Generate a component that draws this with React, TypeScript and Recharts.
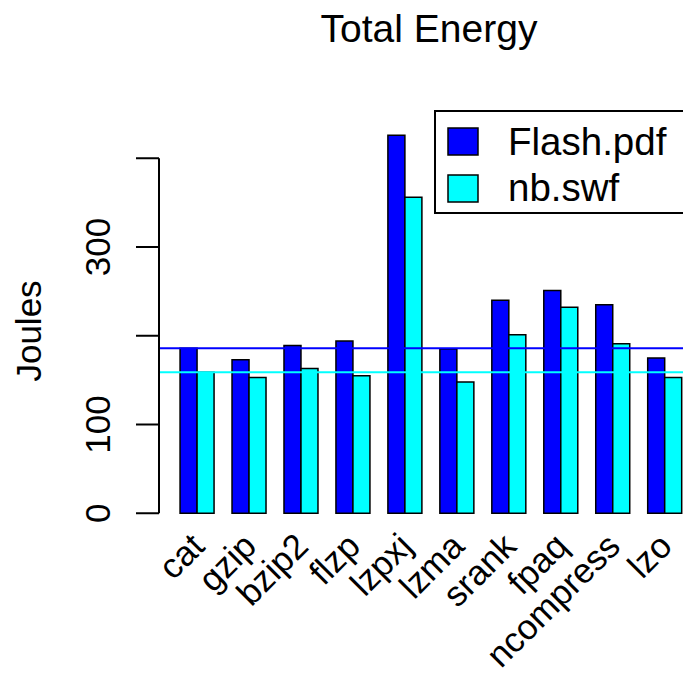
import React from 'react';
import { BarChart, Bar, XAxis, YAxis, ReferenceLine, Legend } from 'recharts';

// Compressors measured
const categories = ['cat', 'gzip', 'bzip2', 'flzp', 'lzpxj', 'lzma', 'srank', 'fpaq', 'ncompress', 'lzo'];
// Total energy (Joules) per workload
const flashPdf = [186, 173, 189, 194, 426, 185, 240, 251, 235, 175];
const nbSwf = [159, 153, 163, 155, 356, 148, 201, 232, 191, 153];
// Y axis ticks and which of them carry a label
const yTicks = [0, 100, 200, 300, 400];
const yTickLabels = ['0', '100', '300'];

const data = categories.map((name, i) => ({ name, flash: flashPdf[i], nb: nbSwf[i] }));

const FONT = '"Liberation Sans", Arial, Helvetica, sans-serif';
const CHART_W = 691;
const CHART_H = 673;
const MARGIN_TOP = 122.75;
const XAXIS_H = 159.75;
const YAXIS_W = 159;
const Y_MAX = 440;
const TICK_LEN = 23;
const PLOT_H = CHART_H - MARGIN_TOP - XAXIS_H;
const PX_PER_UNIT = PLOT_H / Y_MAX;

const YTick = (props: any) => {
  const { x, y, payload } = props;
  const v = String(payload.value);
  const axisX = x + TICK_LEN;
  return (
    <g>
      {payload.value === 0 && (
        <line
          x1={axisX}
          x2={axisX}
          y1={y}
          y2={y - yTicks[yTicks.length - 1] * PX_PER_UNIT}
          stroke="#000"
          strokeWidth={2}
        />
      )}
      {yTickLabels.includes(v) && (
        <text
          x={x - 26}
          y={y}
          transform={`rotate(-90, ${x - 26}, ${y})`}
          textAnchor="middle"
          fontFamily={FONT}
          fontSize={35}
          fill="#000"
        >
          {v}
        </text>
      )}
    </g>
  );
};

const XTick = (props: any) => {
  const { x, y, payload } = props;
  const ax = x + 9;
  const ay = y + 35;
  return (
    <text
      x={ax}
      y={ay}
      transform={`rotate(-45, ${ax}, ${ay})`}
      textAnchor="end"
      fontFamily={FONT}
      fontSize={35}
      fill="#000"
    >
      {payload.value}
    </text>
  );
};

const LegendBox = (props: any) => {
  const items = props.payload || [];
  return (
    <svg width={262} height={104} style={{ display: 'block' }}>
      <rect x={1} y={1} width={270} height={102} fill="#fff" stroke="#000" strokeWidth={2} />
      {items.map((it: any, i: number) => (
        <g key={it.value}>
          <rect x={14} y={18 + i * 47} width={30} height={27} fill={it.color} stroke="#000" strokeWidth={1.5} />
          <text x={74} y={45 + i * 46} fontFamily={FONT} fontSize={38.5} fill="#000">
            {it.value}
          </text>
        </g>
      ))}
    </svg>
  );
};

export default function App() {
  return (
    <div
      style={{
        position: 'absolute',
        left: 0,
        top: 0,
        width: 683,
        height: 673,
        overflow: 'hidden',
        background: '#fff',
      }}
    >
      <svg width={683} height={673} style={{ position: 'absolute', left: 0, top: 0 }}>
        <text x={429} y={41.7} textAnchor="middle" fontFamily={FONT} fontSize={39} fill="#000">
          Total Energy
        </text>
        <text
          x={41}
          y={331}
          transform="rotate(-90, 41, 331)"
          textAnchor="middle"
          fontFamily={FONT}
          fontSize={35}
          fill="#000"
        >
          Joules
        </text>
      </svg>
      <div style={{ position: 'absolute', left: 0, top: 0 }}>
        <BarChart
          width={CHART_W}
          height={CHART_H}
          data={data}
          margin={{ top: MARGIN_TOP, right: 0, bottom: 0, left: 0 }}
          barCategoryGap="16.67%"
          barGap={0}
        >
          <XAxis
            dataKey="name"
            height={XAXIS_H}
            padding={{ left: 12.4, right: 0 }}
            axisLine={false}
            tickLine={false}
            tickSize={0}
            tickMargin={0}
            interval={0}
            tick={<XTick />}
          />
          <YAxis
            width={YAXIS_W}
            domain={[0, Y_MAX]}
            ticks={yTicks}
            axisLine={false}
            tickSize={TICK_LEN}
            tickMargin={0}
            tickLine={{ stroke: '#000', strokeWidth: 2 }}
            tick={<YTick />}
          />
          <Legend
            layout="vertical"
            align="center"
            verticalAlign="middle"
            wrapperStyle={{ position: 'absolute', left: 434, top: 110, width: 262, height: 104 }}
            content={<LegendBox />}
          />
          <Bar dataKey="flash" name="Flash.pdf" fill="#0000FF" stroke="#000" strokeWidth={1.5} isAnimationActive={false} />
          <Bar dataKey="nb" name="nb.swf" fill="#00FFFF" stroke="#000" strokeWidth={1.5} isAnimationActive={false} />
          <ReferenceLine y={flashPdf[0]} stroke="#0000FF" strokeWidth={2} />
          <ReferenceLine y={nbSwf[0]} stroke="#00FFFF" strokeWidth={2} />
        </BarChart>
      </div>
    </div>
  );
}
